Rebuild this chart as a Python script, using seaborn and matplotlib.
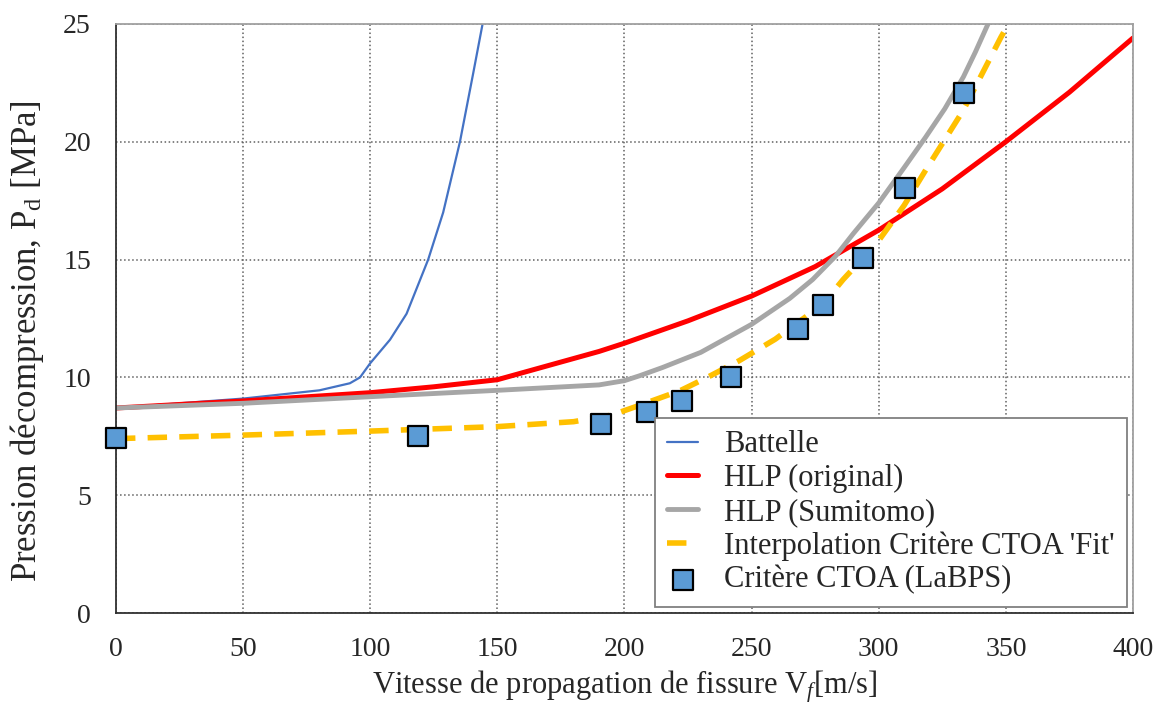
import numpy as np
import pandas as pd
import matplotlib
matplotlib.use('Agg')
import matplotlib.pyplot as plt
import seaborn as sns

sns.set_style('white')
plt.rcParams['font.family'] = ['Liberation Serif', 'DejaVu Serif']
plt.rcParams['mathtext.fontset'] = 'custom'
plt.rcParams['mathtext.rm'] = 'Liberation Serif'
plt.rcParams['mathtext.it'] = 'Liberation Serif:italic'

# Battelle
battelle_v = [0, 50, 80, 92, 96, 100, 107.8, 114.3, 122.8, 128.7, 135.3, 140.5, 144.2]
battelle_p = [8.7, 9.1, 9.45, 9.75, 10.0, 10.6, 11.6, 12.7, 15.0, 17.0, 20.0, 22.9, 25.0]

# HLP (original)
hlp_v = [0, 50, 100, 125, 150, 160, 170, 180, 190, 200, 225, 250, 275, 300, 325, 350, 375, 400]
hlp_p = [8.7, 9.0, 9.35, 9.6, 9.9, 10.2, 10.5, 10.8, 11.1, 11.45, 12.4, 13.45, 14.7, 16.25, 18.0, 20.0, 22.1, 24.4]

# HLP (Sumitomo)
sumi_v = [0, 50, 100, 150, 190, 200, 206, 215, 230, 250, 265, 274, 283, 290, 300, 310, 318.5, 326, 333.3, 338, 343]
sumi_p = [8.7, 8.9, 9.18, 9.45, 9.68, 9.86, 10.07, 10.42, 11.06, 12.25, 13.35, 14.15, 15.14, 16.1, 17.4, 18.9, 20.2, 21.4, 22.75, 23.8, 25.0]

# Interpolation CTOA 'Fit'
fit_v = [0, 50, 100, 150, 180, 195, 207.4, 222, 232.6, 245, 259.3, 278, 286, 299.3, 310, 318.5, 333.3, 348.1, 350]
fit_p = [7.4, 7.55, 7.72, 7.91, 8.12, 8.4, 8.87, 9.44, 10.0, 10.7, 11.62, 13.1, 14.15, 15.7, 17.3, 18.8, 21.34, 24.44, 24.8]

# Critère CTOA (LaBPS)
ctoa_v = [0, 118.8, 190.8, 208.8, 222.6, 241.9, 268.2, 278.1, 293.8, 310.3, 333.5]
ctoa_p = [7.43, 7.5, 8.0, 8.55, 9.0, 10.0, 12.05, 13.05, 15.05, 18.05, 22.05]

fig = plt.figure(figsize=(11.62, 7.03), dpi=100)
ax = fig.add_axes([0.0998, 0.128, 0.8752, 0.838])

sns.lineplot(x=battelle_v, y=battelle_p, color='#4472C4', lw=1.6, sort=False,
             label='Battelle', ax=ax)
sns.lineplot(x=hlp_v, y=hlp_p, color='#FF0000', lw=3.6, sort=False,
             label='HLP (original)', ax=ax)
sns.lineplot(x=sumi_v, y=sumi_p, color='#A6A6A6', lw=3.5, sort=False,
             label='HLP (Sumitomo)', ax=ax)
sns.lineplot(x=fit_v, y=fit_p, color='#FFC000', lw=4, sort=False,
             label="Interpolation Critère CTOA 'Fit'", ax=ax)
ax.lines[-1].set_dashes((3.5, 2.2))
sns.scatterplot(x=ctoa_v, y=ctoa_p, marker='s', s=200, color='#5B9BD5',
                edgecolor='black', linewidth=1.6, label='Critère CTOA (LaBPS)',
                zorder=5, ax=ax)
ax.collections[-1].set_clip_on(False)

ax.set_xlim(0, 400)
ax.set_ylim(0, 25)
ax.set_xticks(np.arange(0, 401, 50))
ax.set_yticks(np.arange(0, 26, 5))
ax.grid(True, linestyle=':', color='#606060', linewidth=1.1)
ax.tick_params(axis='both', labelsize=20, direction='in', length=7,
               width=1.2, color='#303030')
ax.tick_params(axis='x', pad=17)
ax.tick_params(axis='y', pad=18)

for s in ['left', 'bottom']:
    ax.spines[s].set_color('#303030')
    ax.spines[s].set_linewidth(1.3)
for s in ['top', 'right']:
    ax.spines[s].set_color('#a0a0a0')
    ax.spines[s].set_linewidth(1.3)

ax.set_xlabel(r'Vitesse de propagation de fissure V$_{\mathit{f}}$[m/s]', fontsize=22, labelpad=5)
ax.set_ylabel(r'Pression décompression, P$_{\mathrm{d}}$ [MPa]', fontsize=25)
ax.yaxis.set_label_coords(-0.069, 0.462)

leg = ax.legend(loc='lower right', bbox_to_anchor=(1.0, 0.0), fontsize=22,
                frameon=True, fancybox=False, framealpha=1, edgecolor='#808080',
                handlelength=1.0, borderaxespad=0.2, labelspacing=0.15,
                borderpad=0.4, handletextpad=0.85)
leg.get_frame().set_linewidth(1.3)

fig.savefig('out.png', dpi=100, facecolor='white')
